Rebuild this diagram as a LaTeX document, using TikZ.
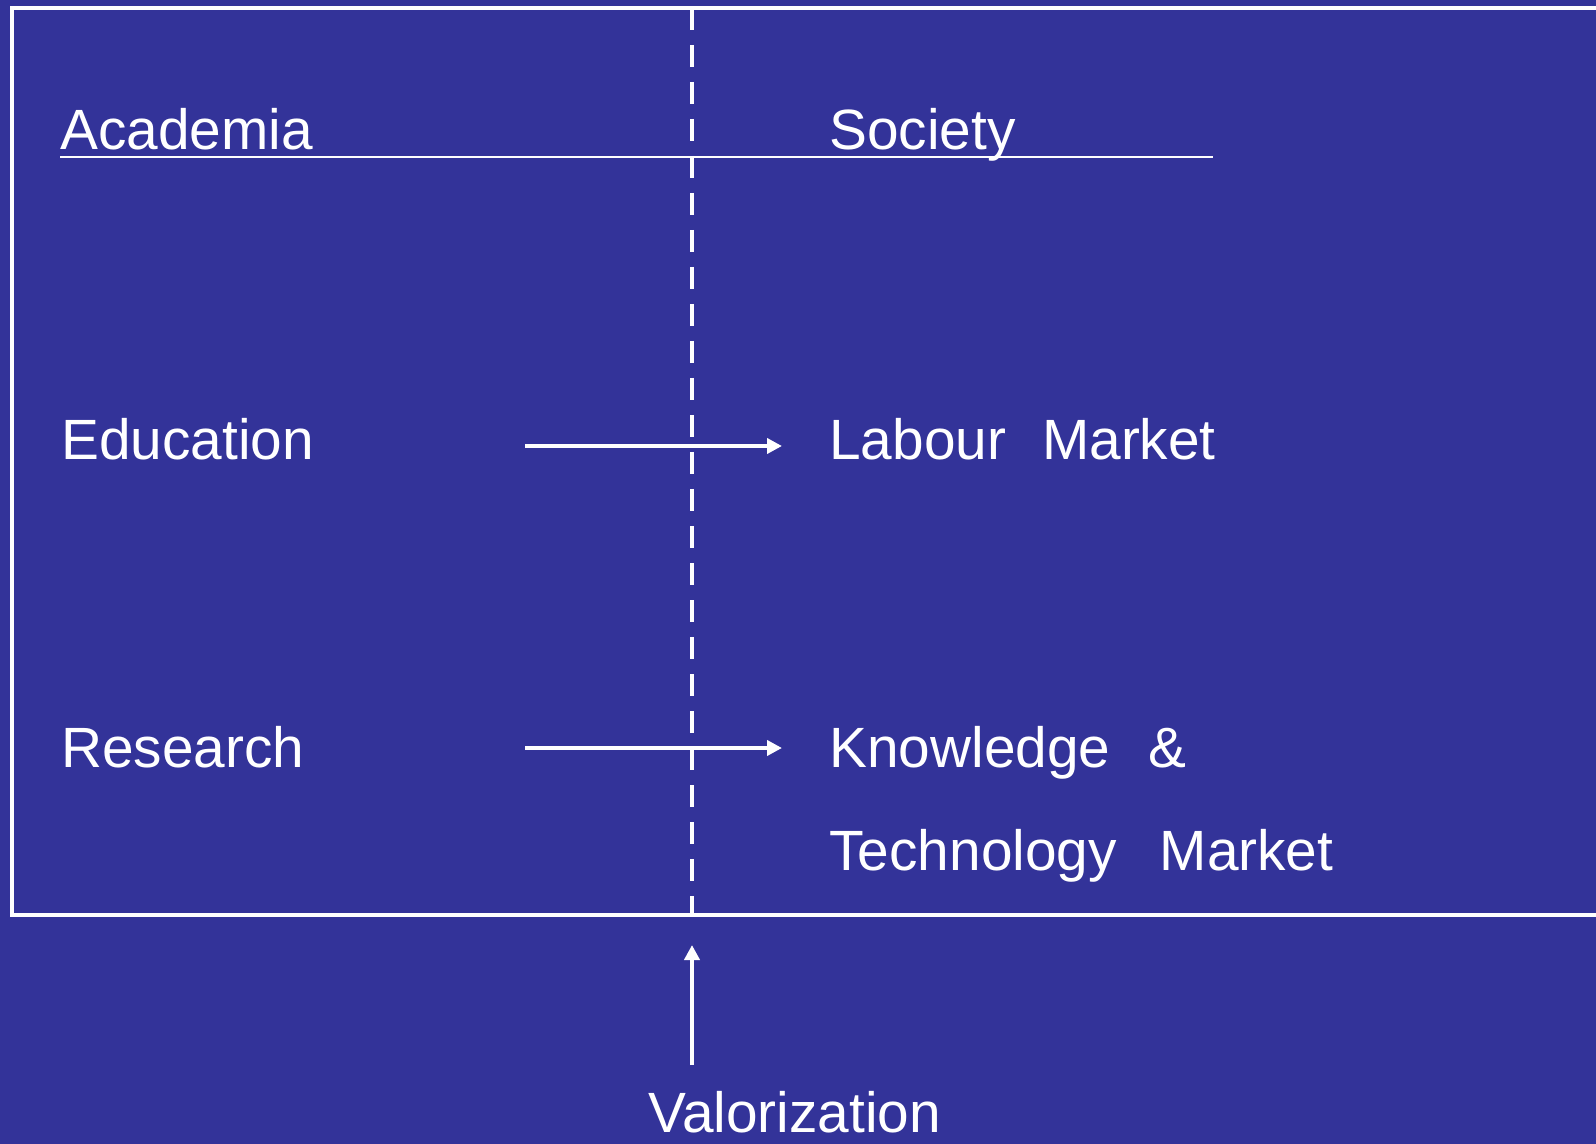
\documentclass[tikz,border=0pt]{standalone}
\usepackage{fontspec}
\setmainfont{Liberation Sans}
\usetikzlibrary{arrows.meta}
\definecolor{bg}{RGB}{51,51,153}
\begin{document}
\begin{tikzpicture}[x=0.5pt,y=-0.5pt,
  lbl/.style={anchor=base west,inner sep=0pt,text=white,font=\fontsize{28.4}{34}\selectfont},
  framebox/.style={draw=white,line width=2.2pt},
  divider/.style={draw=white,line width=2pt,dash pattern=on 11pt off 7.5pt},
  rule/.style={draw=white,line width=1.3pt},
  flow/.style={draw=white,line width=2pt,-{Triangle[length=7.5pt,width=7.5pt]}},
]
\fill[bg] (0,0) rectangle (1596,1144);
\useasboundingbox (0,0) rectangle (1596,1144);
% frame (open to the right)
\draw[framebox] (1700,8) -- (12,8) -- (12,915) -- (1700,915);
% divider
\coordinate (dtop) at (692,8);
\coordinate (dbot) at (692,915);
\draw[divider] (dtop) -- (dbot);
% headings
\node[lbl] (acad) at (60,150) {Academia};
\node[lbl] (soc) at (829,150) {Society};
\coordinate (ul1) at (60,157);
\coordinate (ul2) at (1213,157);
\draw[rule] (ul1) -- (ul2);
% rows
\node[lbl] (edu) at (61,460) {Education};
\node[lbl] (lab) at (829,460) {Labour\hspace{18pt}Market};
\node[lbl] (res) at (61,767) {Research};
\node[lbl] (know) at (829,767) {Knowledge\hspace{19pt}\&};
\node[lbl] (tech) at (829,870) {Technology\hspace{21.5pt}Market};
\node[lbl] (val) at (648,1132) {Valorization};
% arrows
\coordinate (e1) at (525,446);
\coordinate (e2) at (782,446);
\draw[flow] (e1) -- (e2);
\coordinate (r1) at (525,748);
\coordinate (r2) at (782,748);
\draw[flow] (r1) -- (r2);
\coordinate (v1) at (692,1065);
\coordinate (v2) at (692,945);
\draw[flow] (v1) -- (v2);
\end{tikzpicture}
\end{document}
